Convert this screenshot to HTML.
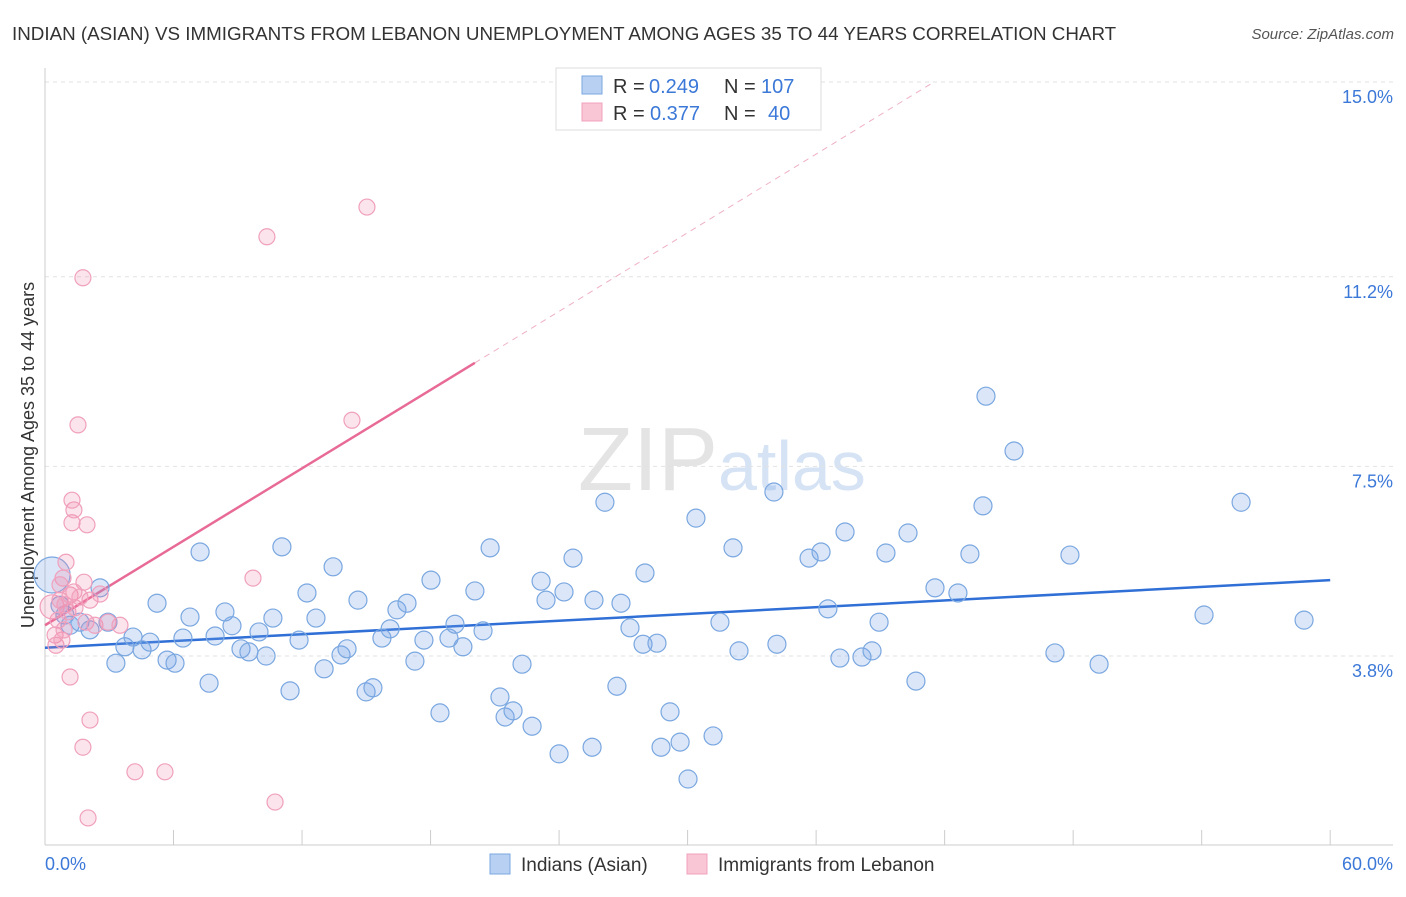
<!DOCTYPE html>
<html><head><meta charset="utf-8"><style>
body{margin:0;background:#fff;font-family:"Liberation Sans",sans-serif}
svg text{font-family:"Liberation Sans",sans-serif}
</style></head><body>
<svg id="c" width="1406" height="892">
<text x="12" y="40" font-size="18.8" fill="#333">INDIAN (ASIAN) VS IMMIGRANTS FROM LEBANON UNEMPLOYMENT AMONG AGES 35 TO 44 YEARS CORRELATION CHART</text>
<text x="1394" y="39" font-size="15" fill="#555" text-anchor="end" font-style="italic">Source: ZipAtlas.com</text>
<text x="718" y="490" font-size="90" fill="#e4e4e4" text-anchor="end" font-family="Liberation Serif">ZIP</text>
<text x="718" y="490" font-size="70" fill="#d6e3f5">atlas</text>
<text transform="translate(34,455) rotate(-90)" font-size="18" fill="#333" text-anchor="middle">Unemployment Among Ages 35 to 44 years</text>
<g id="grid"></g><g id="axes"></g><g id="trends"></g><g id="pts"></g>
<g>
<rect x="556" y="68" width="265" height="62" fill="#fff" stroke="#ddd"/>
<rect x="582" y="76" width="20" height="18" fill="#b8d0f2" stroke="#7aa7e0"/>
<rect x="582" y="103" width="20" height="18" fill="#f9c6d6" stroke="#f0a0bc"/>
<text x="613" y="93" font-size="20" fill="#333">R =</text><text x="649" y="93" font-size="20" fill="#3b78d8">0.249</text>
<text x="724" y="93" font-size="20" fill="#333">N =</text><text x="761" y="93" font-size="20" fill="#3b78d8">107</text>
<text x="613" y="120" font-size="20" fill="#333">R =</text><text x="650" y="120" font-size="20" fill="#3b78d8">0.377</text>
<text x="724" y="120" font-size="20" fill="#333">N =</text><text x="768" y="120" font-size="20" fill="#3b78d8">40</text>
</g>
<g>
<rect x="490" y="854" width="20" height="20" fill="#b8d0f2" stroke="#7aa7e0"/>
<text x="521" y="871" font-size="19" fill="#333">Indians (Asian)</text>
<rect x="687" y="854" width="20" height="20" fill="#f9c6d6" stroke="#f0a0bc"/>
<text x="718" y="871" font-size="19" fill="#333">Immigrants from Lebanon</text>
</g>
</svg>
<script>
const yTicks=[15.0,11.2,7.5,3.8];
const yTickLabels=["15.0%","11.2%","7.5%","3.8%"];
const xTicks=[0,6,12,18,24,30,36,42,48,54,60];
const blueX=[0.33,0.70,0.93,1.17,1.63,2.10,2.57,2.94,3.31,3.73,4.11,4.53,4.90,5.23,5.70,6.07,6.44,6.77,7.24,7.66,7.94,8.40,8.73,9.15,9.52,9.99,10.32,10.64,11.06,11.44,11.86,12.23,12.65,13.03,13.45,13.82,14.10,14.61,14.99,15.31,15.73,16.11,16.43,16.90,17.27,17.69,18.02,18.44,18.86,19.14,19.51,20.07,20.45,20.78,21.24,21.48,21.85,22.27,22.74,23.16,23.39,24.00,24.23,24.65,25.63,25.54,26.14,26.70,26.89,27.31,27.92,28.01,28.57,28.76,29.18,29.65,30.02,30.39,31.19,31.51,32.12,32.40,34.03,34.17,35.67,36.23,36.55,37.11,37.35,38.14,38.61,38.94,39.26,40.29,40.66,41.55,42.62,43.18,43.79,43.93,45.24,47.15,47.85,49.21,54.11,55.84,58.78];
const blueY=[5.38,4.79,4.60,4.40,4.46,4.31,5.13,4.46,3.66,3.98,4.17,3.92,4.07,4.83,3.72,3.66,4.15,4.56,5.83,3.27,4.19,4.66,4.39,3.94,3.88,4.27,3.80,4.54,5.93,3.12,4.11,5.03,4.54,3.55,5.54,3.82,3.94,4.89,3.10,3.18,4.15,4.33,4.70,4.83,3.70,4.11,5.28,2.69,4.15,4.42,3.98,5.07,4.29,5.91,3.00,2.61,2.73,3.64,2.43,5.26,4.89,1.89,5.05,5.71,4.89,2.02,6.80,3.21,4.83,4.35,4.03,5.42,4.05,2.02,2.71,2.12,1.40,6.49,2.24,4.46,5.91,3.90,7.00,4.03,5.71,5.83,4.72,3.76,6.22,3.78,3.90,4.46,5.81,6.20,3.31,5.13,5.03,5.79,6.73,8.87,7.80,3.86,5.77,3.64,4.60,6.80,4.50];
const pinkX=[0.33,0.47,0.61,0.70,0.84,0.98,1.07,1.17,1.26,1.35,1.26,1.54,1.77,1.82,1.96,1.91,2.10,1.35,2.33,2.57,2.94,3.50,1.17,2.10,1.77,4.20,5.60,2.01,9.71,10.36,10.74,14.33,15.03,0.51,0.79,0.93,1.40,1.63,0.70,0.89];
const pinkY=[4.76,4.21,4.50,4.89,5.32,5.63,4.66,4.99,6.40,6.65,6.84,8.31,11.18,5.24,6.36,4.46,4.89,5.05,4.40,5.01,4.46,4.40,3.39,2.55,2.02,1.54,1.54,0.64,5.32,11.98,0.95,8.40,12.56,4.01,4.11,4.80,4.74,4.95,5.19,4.31];
const blueTrend=[[0,3.96],[60,5.28]];
const pinkTrend=[[0,4.40],[20.07,9.52]];
const pinkDash=[[20.07,9.52],[41.5,15.0]];
const sx=v=>45+v*21.42, sy=v=>656-(v-3.8)*51.25;
const NS="http://www.w3.org/2000/svg";
function mk(p,t,a){const e=document.createElementNS(NS,t);for(const k in a)e.setAttribute(k,a[k]);p.appendChild(e);return e;}
const G=document.getElementById('grid'),A=document.getElementById('axes'),T=document.getElementById('trends'),P=document.getElementById('pts');
yTicks.forEach((t,i)=>{
 const l=mk(G,'line',{x1:45,x2:1393,y1:sy(t),y2:sy(t),stroke:'#e2e2e2','stroke-dasharray':'4,4'});
 
 
 const tx=mk(A,'text',{x:1393,y:sy(t)+21,'font-size':18,fill:'#3b78d8','text-anchor':'end'});
 tx.textContent=yTickLabels[i];
 
 
});
mk(A,'line',{x1:45,x2:45,y1:68,y2:845,stroke:'#ccc'});
mk(A,'line',{x1:45,x2:1393,y1:845,y2:845,stroke:'#ccc'});
xTicks.forEach(t=>{const l=mk(A,'line',{x1:sx(t),x2:sx(t),y1:830,y2:845,stroke:'#ccc'});
 
 });
const xl0=mk(A,'text',{x:45,y:870,'font-size':18,fill:'#3b78d8'});xl0.textContent=xTicks[0].toFixed(1)+'%';


const xl1=mk(A,'text',{x:1393,y:870,'font-size':18,fill:'#3b78d8','text-anchor':'end'});xl1.textContent=xTicks[xTicks.length-1].toFixed(1)+'%';


function tl(pts,col,w,dash,name){const l=mk(T,'line',{x1:sx(pts[0][0]),y1:sy(pts[0][1]),x2:sx(pts[1][0]),y2:sy(pts[1][1]),stroke:col,'stroke-width':w});if(dash)l.setAttribute('stroke-dasharray',dash);
 
 }
tl(blueTrend,'#2f6fd6',2.5,null,'indians-trend-line');
tl(pinkTrend,'#e86a96',2.5,null,'lebanon-trend-line');
tl(pinkDash,'#eeb0c6',1,'6,5','lebanon-trend-extension');
blueX.forEach((x,i)=>{const c=mk(P,'circle',{cx:sx(x),cy:sy(blueY[i]),r:i===0?18:9,fill:'rgba(110,160,230,0.25)',stroke:'#7aa7e0','stroke-width':1.2});
 
 });
pinkX.forEach((x,i)=>{const c=mk(P,'circle',{cx:sx(x),cy:sy(pinkY[i]),r:i===0?12:8,fill:'rgba(240,130,170,0.22)',stroke:'#f0a0bc','stroke-width':1.2});
 
 });
</script>
</body></html>
